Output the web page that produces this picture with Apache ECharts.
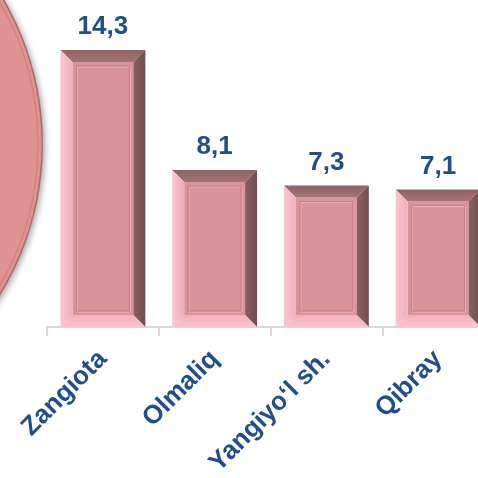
<!DOCTYPE html>
<html><head><meta charset="utf-8">
<script src="https://cdn.jsdelivr.net/npm/echarts@6/dist/echarts.min.js"></script>
<style>html,body{margin:0;padding:0;background:#fff}#c{width:478px;height:478px}</style>
</head><body><div id="c"></div>
<script>
const categories = ['Zangiota', 'Olmaliq', 'Yangiyo‘l sh.', 'Qibray'];
const values = [14.3, 8.1, 7.3, 7.1];

const chart = echarts.init(document.getElementById('c'), null, {renderer: 'canvas'});
const FONT = '"Liberation Sans", Arial, sans-serif';
const BLUE = '#1F4E8B';

function renderItem(params, api) {
  const idx = api.value(0), v = api.value(1);
  const top = api.coord([idx, v]);
  const base = api.coord([idx, 0]);
  const bw = api.size([1, 0])[0] * 0.76;
  const x0 = top[0] - bw / 2, x1 = top[0] + bw / 2, y0 = top[1], y1 = base[1];
  const b = 12, f = 4;
  const ix0 = x0 + b, ix1 = x1 - b, iy0 = y0 + b, iy1 = y1 - b;
  const px0 = ix0 + f, px1 = ix1 - f, py0 = iy0 + f, py1 = iy1 - f;
  return {
    type: 'group',
    children: [
      {type: 'rect', shape: {x: ix0, y: iy0, width: ix1 - ix0, height: iy1 - iy0}, style: {fill: '#D8929A'}},
      {type: 'polygon', shape: {points: [[x0, y0], [x1, y0], [ix1, iy0], [ix0, iy0]]},
        style: {fill: new echarts.graphic.LinearGradient(0, 0, 0, 1, [{offset: 0, color: '#8E6366'}, {offset: 1, color: '#A27378'}])}},
      {type: 'polygon', shape: {points: [[x1, y0], [x1, y1], [ix1, iy1], [ix1, iy0]]},
        style: {fill: new echarts.graphic.LinearGradient(0, 0, 1, 0, [{offset: 0, color: '#8A5F63'}, {offset: 1, color: '#6F4D50'}])}},
      {type: 'polygon', shape: {points: [[x0, y1], [x1, y1], [ix1, iy1], [ix0, iy1]]},
        style: {fill: new echarts.graphic.LinearGradient(0, 0, 0, 1, [{offset: 0, color: '#F3B0BC'}, {offset: 1, color: '#FBC3CE'}])}},
      {type: 'polygon', shape: {points: [[x0, y0], [x0, y1], [ix0, iy1], [ix0, iy0]]},
        style: {fill: new echarts.graphic.LinearGradient(0, 0, 1, 0, [{offset: 0, color: '#FAC6D0'}, {offset: 1, color: '#F0AFBA'}])}},
      {type: 'rect', shape: {x: px0 + 1, y: py0 + 1, width: px1 - px0, height: py1 - py0}, style: {fill: 'none', stroke: '#EDB3BB', lineWidth: 1}},
      {type: 'rect', shape: {x: px0, y: py0, width: px1 - px0, height: py1 - py0}, style: {fill: 'none', stroke: '#C17E86', lineWidth: 1}},
      {type: 'text', style: {text: String(v).replace('.', ','), x: top[0], y: y0 - 10,
        align: 'center', verticalAlign: 'bottom', fill: BLUE, font: 'bold 26px ' + FONT}}
    ]
  };
}

chart.setOption({
  backgroundColor: '#fff',
  animation: false,
  graphic: [
    {type: 'circle', z: 0, shape: {cx: -245, cy: 144, r: 288},
      style: {fill: '#A8696B', shadowBlur: 6, shadowColor: 'rgba(0,0,0,0.35)', shadowOffsetX: 2, shadowOffsetY: 2}},
    {type: 'circle', z: 1, shape: {cx: -245, cy: 144, r: 286.5},
      style: {fill: '#DF928F'}},
    {type: 'circle', z: 1, shape: {cx: -245, cy: 144, r: 283},
      style: {fill: 'none', stroke: '#C98280', lineWidth: 1.2}}
  ],
  grid: {left: 47, top: 17, width: 447, height: 310, outerBoundsMode: 'none', containLabel: false},
  xAxis: {
    type: 'category', data: categories,
    axisLine: {lineStyle: {color: '#D9D9D9', width: 2}},
    axisTick: {show: true, length: 9, lineStyle: {color: '#D9D9D9', width: 2}},
    axisLabel: {interval: 0, rotate: 45, margin: 28, color: BLUE, fontWeight: 'bold', fontSize: 26, fontFamily: FONT, hideOverlap: false}
  },
  yAxis: {type: 'value', min: 0, max: 16, show: false, splitLine: {show: false}},
  series: [{
    type: 'custom',
    renderItem: renderItem,
    encode: {x: 0, y: 1},
    data: values.map((v, i) => [i, v]),
    clip: false
  }]
});
</script></body></html>
